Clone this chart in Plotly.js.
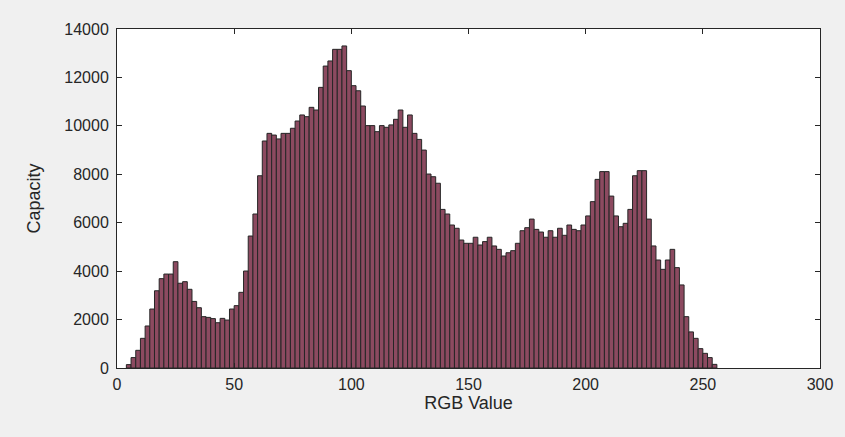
<!DOCTYPE html>
<html>
<head>
<meta charset="utf-8">
<script src="https://cdn.plot.ly/plotly-3.0.1.min.js"></script>
<style>html,body{margin:0;padding:0;background:#f0f0f0;}#chart{width:845px;height:437px;}</style>
</head>
<body>
<div id="chart"></div>
<script>
// Histogram of RGB values: bins of width 2, first non-empty bin starts at 4
const binFirstCenter = 5;
const binWidth = 2;
const counts = [
  140, 430, 730, 1225, 1735, 2435, 3190, 3690, 3880, 3880,
  4390, 3500, 3565, 3250, 2750, 2490, 2120, 2090, 2040, 1870,
  2050, 1980, 2435, 2575, 3125, 4005, 5450, 6360, 7940, 9375,
  9690, 9620, 9460, 9690, 9690, 9900, 10200, 10450, 10380, 10765,
  10655, 11590, 12470, 12680, 13160, 13160, 13300, 12280, 11660, 11450,
  10820, 10010, 10010, 9760, 10010, 9940, 10040, 10270, 10655, 9940,
  10450, 9690, 9440, 9000, 8010, 7900, 7630, 6550, 6360, 5905,
  5770, 5285, 5150, 5150, 5400, 5080, 5220, 5400, 5040, 4900,
  4625, 4760, 4845, 5150, 5670, 5795, 6150, 5725, 5615, 5400,
  5670, 5400, 5770, 5480, 5905, 5725, 5670, 5905, 6280, 6870,
  7790, 8110, 8110, 7100, 6280, 5835, 5975, 6550, 7940, 8150,
  8150, 6150, 5040, 4460, 4075, 4460, 4900, 4145, 3430, 2120,
  1490, 1225, 800, 605, 430, 150
];
const xTicks = [0, 50, 100, 150, 200, 250, 300];
const yTicks = [0, 2000, 4000, 6000, 8000, 10000, 12000, 14000];
const xLabel = 'RGB Value';
const yLabel = 'Capacity';

const fontFamily = 'Liberation Sans, Arial, sans-serif';

const trace = {
  type: 'bar',
  x0: binFirstCenter,
  dx: binWidth,
  y: counts,
  width: binWidth,
  marker: { color: '#8c4a60', line: { color: '#262626', width: 1 } },
  hoverinfo: 'x+y'
};

const axisCommon = {
  showgrid: false,
  zeroline: false,
  showline: true,
  linecolor: '#262626',
  linewidth: 1,
  mirror: 'ticks',
  ticks: 'inside',
  ticklen: 5,
  tickcolor: '#262626',
  tickfont: { family: fontFamily, size: 16, color: '#262626' }
};

const layout = {
  width: 845,
  height: 437,
  paper_bgcolor: '#f0f0f0',
  plot_bgcolor: '#ffffff',
  margin: { l: 117, r: 25, t: 29, b: 69 },
  showlegend: false,
  bargap: 0,
  xaxis: Object.assign({}, axisCommon, {
    range: [0, 300],
    tickmode: 'array',
    tickvals: xTicks,
    ticktext: xTicks.map(String),
    ticklabelstandoff: 2,
    title: { text: xLabel, font: { family: fontFamily, size: 18, color: '#262626' }, standoff: 3 }
  }),
  yaxis: Object.assign({}, axisCommon, {
    range: [0, 14000],
    tickmode: 'array',
    tickvals: yTicks,
    ticktext: yTicks.map(String),
    ticklabelstandoff: 4,
    title: { text: yLabel, font: { family: fontFamily, size: 18, color: '#262626' }, standoff: 18 }
  })
};

Plotly.newPlot('chart', [trace], layout, { displayModeBar: false, staticPlot: true });
</script>
</body>
</html>
